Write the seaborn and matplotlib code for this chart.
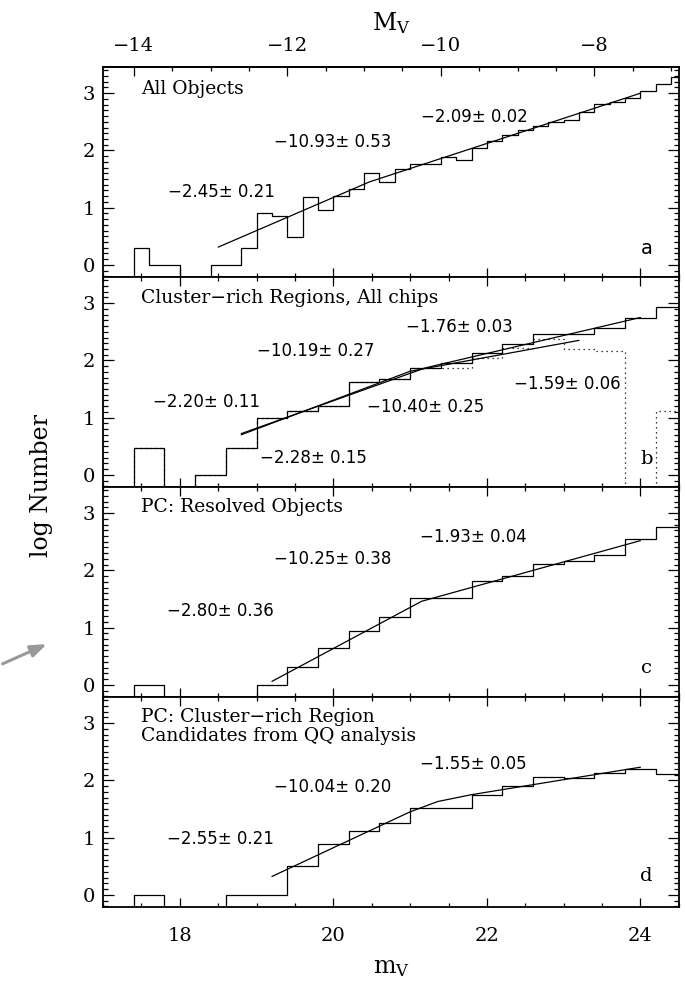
import numpy as np
import pandas as pd
import seaborn as sns
import matplotlib.pyplot as plt
from matplotlib.ticker import MultipleLocator

####################################################################################################################################
#                                                        DATA                                                                      #
####################################################################################################################################

# distance modulus linking m_V (bottom) and M_V (top)
DM = 31.4

# bin edges: panel a uses 0.2 mag bins, the others 0.4 mag bins
edges_fine = [17.4, 17.6, 17.8, 18.0, 18.2, 18.4, 18.6, 18.8, 19.0, 19.2, 19.4, 19.6, 19.8, 20.0, 20.2, 20.4, 20.6, 20.8,
              21.0, 21.2, 21.4, 21.6, 21.8, 22.0, 22.2, 22.4, 22.6, 22.8, 23.0, 23.2, 23.4, 23.6, 23.8, 24.0, 24.2, 24.4, 24.6]
edges_coarse = [17.4, 17.8, 18.2, 18.6, 19.0, 19.4, 19.8, 20.2, 20.6, 21.0, 21.4, 21.8, 22.2, 22.6, 23.0, 23.4, 23.8, 24.2, 24.6]

# log Number per bin (None = empty bin)
logn_a = [0.30, 0.0, 0.0, None, None, 0.0, 0.0, 0.30, 0.90, 0.85, 0.48, 1.18, 0.95, 1.20, 1.32, 1.61, 1.44, 1.67,
          1.76, 1.77, 1.89, 1.83, 2.04, 2.17, 2.27, 2.35, 2.43, 2.50, 2.53, 2.68, 2.81, 2.85, 2.91, 3.03, 3.16, 3.29]
logn_b = [0.47, None, 0.0, 0.47, 1.00, 1.11, 1.21, 1.62, 1.67, 1.87, 1.96, 2.13, 2.29, 2.46, 2.46, 2.56, 2.74, 2.93]
logn_b_dot = [0.47, None, 0.0, 0.47, 1.00, 1.11, 1.21, 1.62, 1.67, 1.87, 1.87, 2.04, 2.22, 2.38, 2.20, 2.16, None, 1.11]
logn_c = [0.0, None, None, None, 0.0, 0.31, 0.65, 0.94, 1.18, 1.52, 1.52, 1.82, 1.90, 2.12, 2.17, 2.27, 2.55, 2.76]
logn_d = [0.0, None, None, 0.0, 0.0, 0.50, 0.88, 1.12, 1.25, 1.52, 1.52, 1.75, 1.91, 2.06, 2.04, 2.13, 2.20, 2.11]

# broken power-law fits (m_V, log N vertices)
fit_a_m, fit_a_y = [18.5, 20.47, 24.0], [0.31, 1.45, 3.00]
fit_b1_m, fit_b1_y = [18.8, 21.2, 24.0], [0.72, 1.87, 2.75]
fit_b2_m, fit_b2_y = [18.8, 21.0, 23.2], [0.70, 1.81, 2.35]
fit_c_m, fit_c_y = [19.2, 21.15, 24.0], [0.06, 1.46, 2.52]
fit_d_m, fit_d_y = [19.2, 21.0, 21.36, 21.8, 24.0], [0.32, 1.45, 1.63, 1.75, 2.23]

# panel titles and fit labels (text, m_V, log N)
titles = [['All Objects'], ['Cluster\u2212rich Regions, All chips'], ['PC: Resolved Objects'],
          ['PC: Cluster\u2212rich Region', 'Candidates from QQ analysis']]
title_y = [[3.07], [3.09], [3.10], [3.11, 2.78]]
panel_letters = ['a', 'b', 'c', 'd']
letter_y = [0.29, 0.28, 0.29, 0.32]
fit_labels = [
    [('\u22122.45\u00b1 0.21', 17.84, 1.28), ('\u221210.93\u00b1 0.53', 19.23, 2.15), ('\u22122.09\u00b1 0.02', 21.14, 2.58)],
    [('\u22122.20\u00b1 0.11', 17.645, 1.28), ('\u221210.19\u00b1 0.27', 19.01, 2.17), ('\u22122.28\u00b1 0.15', 19.04, 0.29),
     ('\u22121.76\u00b1 0.03', 20.94, 2.58), ('\u221210.40\u00b1 0.25', 20.44, 1.18), ('\u22121.59\u00b1 0.06', 22.35, 1.59)],
    [('\u22122.80\u00b1 0.36', 17.83, 1.29), ('\u221210.25\u00b1 0.38', 19.23, 2.20), ('\u22121.93\u00b1 0.04', 21.13, 2.58)],
    [('\u22122.55\u00b1 0.21', 17.83, 0.97), ('\u221210.04\u00b1 0.20', 19.23, 1.88), ('\u22121.55\u00b1 0.05', 21.13, 2.29)],
]
top_ticks = [-14, -12, -10, -8]

####################################################################################################################################
#                                                        HELPER                                                                    #
####################################################################################################################################

FLOOR = -1.0  # empty bins (log 0) drop below the frame, like the IDL histogram


def step_frame(edges, vals):
    # histogram outline as a steps-post line, starting from below the frame
    v = [FLOOR if x is None else x for x in vals]
    return pd.DataFrame({'m': [edges[0]] + list(edges), 'logn': [FLOOR] + v + [v[-1]]})


def draw_hist(ax, edges, vals, **kw):
    sns.lineplot(data=step_frame(edges, vals), x='m', y='logn', ax=ax, sort=False, estimator=None,
                 drawstyle='steps-post', color='black', lw=0.9, **kw)


def draw_fit(ax, m, y):
    sns.lineplot(x=m, y=y, ax=ax, sort=False, estimator=None, color='black', lw=0.9)


####################################################################################################################################
#                                                        PLOT                                                                      #
####################################################################################################################################

sns.set_theme(style='ticks')
plt.rcParams['font.family'] = ['DejaVu Serif', 'DejaVu Sans']
plt.rcParams['mathtext.fontset'] = 'dejavuserif'
for k in ['text.color', 'axes.labelcolor', 'xtick.color', 'ytick.color', 'axes.edgecolor']:
    plt.rcParams[k] = 'black'

fig, axes = plt.subplots(4, 1, sharex=True, figsize=(6.85, 9.82), dpi=100)
fig.subplots_adjust(left=0.1504, right=0.991, top=0.9313, bottom=0.076, hspace=0)

draw_hist(axes[0], edges_fine, logn_a)
draw_fit(axes[0], fit_a_m, fit_a_y)

draw_hist(axes[1], edges_coarse, logn_b_dot, linestyle=(0, (1, 3)))
draw_hist(axes[1], edges_coarse, logn_b)
draw_fit(axes[1], fit_b1_m, fit_b1_y)
draw_fit(axes[1], fit_b2_m, fit_b2_y)

draw_hist(axes[2], edges_coarse, logn_c)
draw_fit(axes[2], fit_c_m, fit_c_y)

draw_hist(axes[3], edges_coarse, logn_d)
draw_fit(axes[3], fit_d_m, fit_d_y)

for i, ax in enumerate(axes):
    ax.set_xlim(17.0, 24.5)
    ax.set_ylim(-0.22, 3.45)
    ax.set_xlabel('')
    ax.set_ylabel('')
    ax.xaxis.set_major_locator(MultipleLocator(2))
    ax.xaxis.set_minor_locator(MultipleLocator(0.5))
    ax.yaxis.set_major_locator(MultipleLocator(1))
    ax.yaxis.set_minor_locator(MultipleLocator(0.1))
    ax.tick_params(which='both', direction='in', top=(i > 0), right=True, color='black', width=0.9)
    ax.tick_params(axis='x', which='major', length=6.5, labelsize=14, pad=14)
    ax.tick_params(axis='x', which='minor', length=3)
    ax.tick_params(axis='y', which='major', length=8, labelsize=14, pad=6)
    ax.tick_params(axis='y', which='minor', length=3.5)
    for s in ax.spines.values():
        s.set_linewidth(1.3)
        s.set_color('black')

    for t, ty in zip(titles[i], title_y[i]):
        ax.text(17.5, ty, t, fontsize=13.5, ha='left', va='center', family='DejaVu Serif')
    for t, tx, ty in fit_labels[i]:
        ax.text(tx, ty, t, fontsize=12, ha='left', va='center', family='DejaVu Sans')
    ax.text(24.08, letter_y[i], panel_letters[i], fontsize=14, ha='center', va='center',
            family='DejaVu Sans' if i == 0 else 'DejaVu Serif')

# top axis in absolute magnitude
secax = axes[0].secondary_xaxis('top', functions=(lambda m: m - DM, lambda M: M + DM))
secax.set_xticks(top_ticks)
secax.xaxis.set_minor_locator(MultipleLocator(0.5))
secax.tick_params(which='both', direction='in', width=0.9, color='black')
secax.tick_params(which='major', length=6.5, labelsize=14, pad=9)
secax.tick_params(which='minor', length=3)
secax.spines['top'].set_linewidth(1.3)

fig.text(0.060, 0.506, 'log Number', rotation=90, ha='center', va='center', fontsize=17)
fig.text(0.571, 0.015, r'$\mathrm{m_V}$', ha='center', va='center', fontsize=17)
fig.text(0.571, 0.977, r'$\mathrm{M_V}$', ha='center', va='center', fontsize=17)

# grey arrow pointing in from the left margin
axes[2].annotate('', xy=(0.072, 1 - 643 / 982), xycoords='figure fraction',
                 xytext=(0.0, 1 - 665 / 982), textcoords='figure fraction', annotation_clip=False,
                 arrowprops=dict(arrowstyle='-|>,head_length=0.8,head_width=0.3', color='#999999', lw=2.2))

plt.savefig('out.png', dpi=100)
plt.close()
